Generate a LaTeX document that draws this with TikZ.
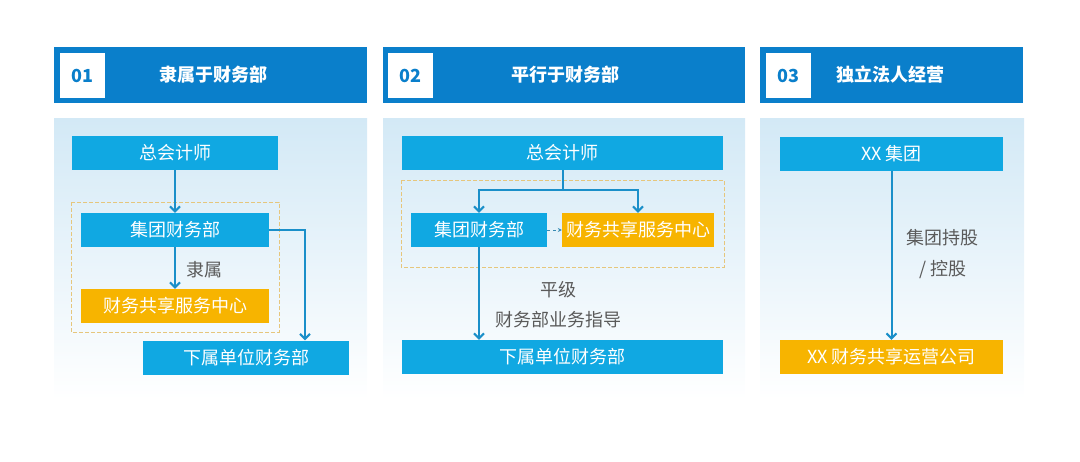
\documentclass[tikz,border=0pt]{standalone}
\usepackage{fontspec}
\setmainfont{Noto Sans CJK SC}
\usetikzlibrary{positioning,arrows.meta}

\definecolor{hdblue}{HTML}{0A7FCB}
\definecolor{boxblue}{HTML}{10A8E2}
\definecolor{boxorange}{HTML}{F7B400}
\definecolor{linkblue}{HTML}{1A8FC9}
\definecolor{bodyblue}{HTML}{D3E9F6}
\definecolor{dashtan}{HTML}{E6C67C}
\definecolor{labelgray}{HTML}{5A5A5A}

\tikzset{
	numbox/.style={fill=white, minimum width=45pt, minimum height=45pt, inner sep=0pt,
		text=hdblue, font=\bfseries\fontsize{18}{20}\selectfont},
	headtitle/.style={text=white, font=\bfseries\fontsize{18}{20}\selectfont},
	bluebox/.style={fill=boxblue, text=white, minimum height=34pt, inner sep=0pt,
		font=\fontsize{18}{20}\selectfont},
	orangebox/.style={bluebox, fill=boxorange},
	linklabel/.style={text=labelgray, font=\fontsize{18}{20}\selectfont},
	link/.style={draw=linkblue, line width=2pt, -{Straight Barb[length=5pt,width=10pt]}},
	dashframe/.style={draw=dashtan, line width=0.8pt, dash pattern=on 4pt off 2pt},
}

\begin{document}
\begin{tikzpicture}[x=1pt, y=-1pt]
	\useasboundingbox (0,0) rectangle (1080,461);
	%% panel backgrounds
	\fill[hdblue] (54,47) rectangle (367,103);
	\fill[hdblue] (383,47) rectangle (745,103);
	\fill[hdblue] (760,47) rectangle (1023,103);
	\shade[top color=bodyblue, bottom color=white] (54,118) rectangle (367,400);
	\shade[top color=bodyblue, bottom color=white] (383,118) rectangle (745,400);
	\shade[top color=bodyblue, bottom color=white] (760,118) rectangle (1024,400);

	%% headers
	\node[numbox] (num1) at (82.5,75.5) {01};
	\node[headtitle] (title1) at (213,75) {隶属于财务部};
	\node[numbox] (num2) at (410.5,75.5) {02};
	\node[headtitle] (title2) at (565,75) {平行于财务部};
	\node[numbox] (num3) at (788.5,75.5) {03};
	\node[headtitle] (title3) at (890,75) {独立法人经营};

	%% panel 1
	\draw[dashframe] (71,202) rectangle (279,332);
	\node[bluebox, minimum width=206pt] (chief1) at (175,153) {总会计师};
	\node[bluebox, minimum width=188pt] (dept1) at (175,230) {集团财务部};
	\node[orangebox, minimum width=188pt] (center1) at (175,306) {财务共享服务中心};
	\node[bluebox, minimum width=206pt] (sub1) at (246,357.5) {下属单位财务部};
	\node[linklabel] (rel1) at (204,270) {隶属};
	\coordinate (turn1) at (305,230);
	\draw[link] (chief1) -- (dept1);
	\draw[link] (dept1) -- (center1);
	\draw[link] (dept1.east) -- (turn1) -- (turn1 |- sub1.north);

	%% panel 2
	\draw[dashframe] (401,180) rectangle (724,267);
	\node[bluebox, minimum width=321pt] (chief2) at (562.5,153) {总会计师};
	\node[bluebox, minimum width=136pt] (dept2) at (479,230) {集团财务部};
	\node[orangebox, minimum width=152pt] (center2) at (638,230) {财务共享服务中心};
	\node[bluebox, minimum width=321pt] (sub2) at (562.5,357) {下属单位财务部};
	\node[linklabel] (rel2a) at (558,290) {平级};
	\node[linklabel] (rel2b) at (558,320) {财务部业务指导};
	\coordinate (split2) at (562.5,190);
	\draw[draw=linkblue, line width=2pt] (chief2.south) -- (split2);
	\draw[link] (split2) -| (dept2.north);
	\draw[link] (split2) -| (center2.north);
	\draw[draw=linkblue!70!gray, line width=1pt, dashed, -{Stealth[length=4pt,width=4pt]}] (dept2.east) -- (center2.west);
	\draw[link] (dept2.south) -- (dept2.south |- sub2.north);

	%% panel 3
	\node[bluebox, minimum width=223pt] (group3) at (891.5,153.5) {XX 集团};
	\node[orangebox, minimum width=223pt] (company3) at (891.5,357) {XX 财务共享运营公司};
	\node[linklabel] (rel3a) at (942,238) {集团持股};
	\node[linklabel] (rel3b) at (943,270) {/ 控股};
	\draw[link] (group3) -- (company3);
\end{tikzpicture}
\end{document}
